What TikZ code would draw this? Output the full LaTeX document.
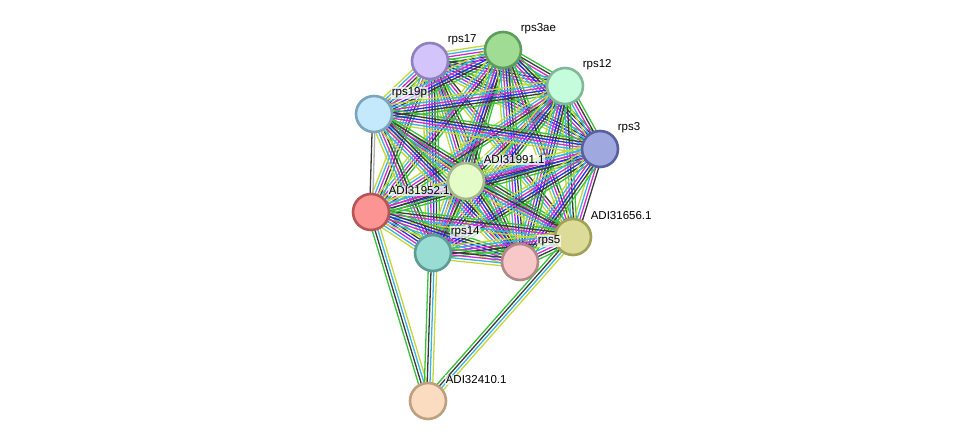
\documentclass[tikz,border=0pt]{standalone}
\usepackage{fontspec}
\setmainfont{Liberation Sans}
\usetikzlibrary{calc}

\pgfdeclarelayer{bg}
\pgfsetlayers{bg,main}

% evidence colours
\definecolor{txtm}{HTML}{C4D83A}
\definecolor{dbase}{HTML}{38B4E4}
\definecolor{coexp}{HTML}{3A3A3A}
\definecolor{neigh}{HTML}{38C238}
\definecolor{cooc}{HTML}{2C2CF0}
\definecolor{expt}{HTML}{D42CD4}
\definecolor{homol}{HTML}{B0B0B0}

\tikzset{
  prot/.style={circle, draw, line width=2.6pt, minimum size=36pt, inner sep=0pt},
  lbl/.style={anchor=west, fill=white, fill opacity=0.7, text opacity=1, inner sep=0.6pt,
    font=\fontsize{11.5}{13}\selectfont},
  link/.style={line width=1.3pt}
}

% bundle of parallel evidence lines between two nodes
\newcommand{\bundle}[3]{%
  \foreach \col [count=\i] in {#3}{\xdef\nlines{\i}}%
  \foreach \col [count=\i] in {#3}{%
    \pgfmathsetmacro{\off}{(\i-(\nlines+1)/2)*2.8}%
    \draw[link,\col] ($(#1)!\off pt!90:(#2)$) -- ($(#2)!\off pt!-90:(#1)$);}}

\begin{document}
\begin{tikzpicture}[x=1pt,y=-1pt]
  \useasboundingbox (0,0) rectangle (975,446);

  % Draw proteins and their names
  \node[prot, draw={rgb,255:red,144;green,128;blue,192}, fill={rgb,255:red,212;green,196;blue,252}] (r17) at (430,61) {};
  \node[lbl] (r17-t) at ($(r17)+(17,-21)$) {rps17};
  \node[prot, draw={rgb,255:red,92;green,156;blue,92}, fill={rgb,255:red,160;green,220;blue,148}] (r3ae) at (503,50) {};
  \node[lbl] (r3ae-t) at ($(r3ae)+(17,-21)$) {rps3ae};
  \node[prot, draw={rgb,255:red,128;green,184;blue,152}, fill={rgb,255:red,196;green,252;blue,220}] (r12) at (565,86) {};
  \node[lbl] (r12-t) at ($(r12)+(17,-21)$) {rps12};
  \node[prot, draw={rgb,255:red,124;green,164;blue,188}, fill={rgb,255:red,196;green,232;blue,252}] (r19) at (374,114) {};
  \node[lbl] (r19-t) at ($(r19)+(17,-21)$) {rps19p};
  \node[prot, draw={rgb,255:red,88;green,96;blue,160}, fill={rgb,255:red,160;green,168;blue,224}] (r3) at (600,149) {};
  \node[lbl] (r3-t) at ($(r3)+(17,-21)$) {rps3};
  \node[prot, draw={rgb,255:red,184;green,84;blue,84}, fill={rgb,255:red,252;green,148;blue,148}] (a52) at (371,212) {};
  \node[lbl] (a52-t) at ($(a52)+(17,-21)$) {ADI31952.1};
  \node[prot, draw={rgb,255:red,164;green,184;blue,136}, fill={rgb,255:red,228;green,252;blue,200}] (a91) at (466,181) {};
  \node[lbl] (a91-t) at ($(a91)+(17,-21)$) {ADI31991.1};
  \node[prot, draw={rgb,255:red,160;green,160;blue,88}, fill={rgb,255:red,220;green,220;blue,152}] (a56) at (573,237) {};
  \node[lbl] (a56-t) at ($(a56)+(17,-21)$) {ADI31656.1};
  \node[prot, draw={rgb,255:red,92;green,156;blue,148}, fill={rgb,255:red,152;green,220;blue,212}] (r14) at (433,253) {};
  \node[lbl] (r14-t) at ($(r14)+(17,-21)$) {rps14};
  \node[prot, draw={rgb,255:red,176;green,136;blue,136}, fill={rgb,255:red,248;green,200;blue,200}] (r5) at (520,262) {};
  \node[lbl] (r5-t) at ($(r5)+(17,-21)$) {rps5};
  \node[prot, draw={rgb,255:red,188;green,160;blue,128}, fill={rgb,255:red,252;green,220;blue,192}] (a10) at (428,401) {};
  \node[lbl] (a10-t) at ($(a10)+(17,-21)$) {ADI32410.1};

  % Draw interactions
  \begin{pgfonlayer}{bg}
    \bundle{r17}{r3ae}{cooc,coexp,neigh,expt,dbase,txtm}
    \bundle{r17}{r12}{txtm,dbase,expt,coexp,neigh}
    \bundle{r17}{r19}{txtm,dbase,expt,coexp,neigh}
    \bundle{r17}{r3}{txtm,dbase,expt,cooc,coexp,neigh}
    \bundle{r17}{a91}{txtm,dbase,expt,coexp,neigh}
    \bundle{r17}{a52}{txtm,dbase,expt,coexp,neigh}
    \bundle{r17}{a56}{txtm,dbase,expt,coexp}
    \bundle{r17}{r14}{txtm,dbase,expt,cooc,coexp,neigh}
    \bundle{r17}{r5}{txtm,dbase,expt,coexp,neigh}
    \bundle{r3ae}{r12}{txtm,dbase,expt,coexp,neigh}
    \bundle{r3ae}{r19}{txtm,dbase,expt,cooc,coexp,neigh}
    \bundle{r3ae}{r3}{txtm,dbase,expt,cooc,coexp,neigh}
    \bundle{r3ae}{a91}{txtm,dbase,expt,coexp,neigh}
    \bundle{r3ae}{a52}{txtm,dbase,expt,coexp,neigh}
    \bundle{r3ae}{a56}{txtm,dbase,expt,coexp,neigh}
    \bundle{r3ae}{r14}{txtm,dbase,expt,cooc,coexp,neigh}
    \bundle{r3ae}{r5}{txtm,dbase,expt,cooc,coexp,neigh}
    \bundle{r12}{r19}{txtm,dbase,expt,cooc,coexp,neigh}
    \bundle{r12}{r3}{txtm,dbase,expt,coexp,neigh}
    \bundle{r12}{a91}{txtm,dbase,expt,coexp,neigh}
    \bundle{r12}{a52}{txtm,dbase,expt,coexp,neigh}
    \bundle{r12}{a56}{txtm,dbase,coexp,neigh}
    \bundle{r12}{r14}{txtm,dbase,expt,cooc,coexp,neigh}
    \bundle{r12}{r5}{txtm,dbase,expt,cooc,coexp,neigh}
    \bundle{r19}{r3}{txtm,dbase,expt,cooc,coexp,neigh}
    \bundle{r19}{a91}{txtm,dbase,expt,coexp,neigh}
    \bundle{r19}{a52}{coexp,homol}
    \bundle{r19}{a56}{txtm,dbase,expt,coexp,neigh}
    \bundle{r19}{r14}{txtm,dbase,expt,coexp,neigh}
    \bundle{r19}{r5}{txtm,dbase,expt,cooc,coexp,neigh}
    \bundle{r3}{a91}{txtm,dbase,expt,coexp,neigh}
    \bundle{r3}{a52}{txtm,dbase,expt,cooc,coexp,neigh}
    \bundle{r3}{a56}{txtm,dbase,expt,coexp}
    \bundle{r3}{r14}{txtm,dbase,expt,cooc,coexp,neigh}
    \bundle{r3}{r5}{txtm,dbase,expt,cooc,coexp,neigh}
    \bundle{a91}{a52}{txtm,dbase,expt,coexp,neigh}
    \bundle{a91}{a56}{txtm,dbase,expt,coexp,neigh}
    \bundle{a91}{r14}{txtm,dbase,expt,coexp,neigh}
    \bundle{a91}{r5}{txtm,dbase,expt,cooc,coexp,neigh}
    \bundle{a52}{a56}{txtm,dbase,expt,coexp,neigh}
    \bundle{a52}{r14}{txtm,dbase,expt,cooc,coexp,neigh}
    \bundle{a52}{r5}{txtm,dbase,expt,cooc,coexp,neigh}
    \bundle{a56}{r14}{txtm,dbase,expt,coexp,neigh}
    \bundle{a56}{r5}{txtm,dbase,expt,coexp,neigh}
    \bundle{r14}{r5}{txtm,dbase,expt,coexp,neigh}
    \bundle{a10}{a52}{txtm,dbase,coexp,neigh}
    \bundle{a10}{r14}{txtm,dbase,coexp,neigh}
    \bundle{a10}{a56}{txtm,dbase,coexp,neigh}
  \end{pgfonlayer}
\end{tikzpicture}
\end{document}
